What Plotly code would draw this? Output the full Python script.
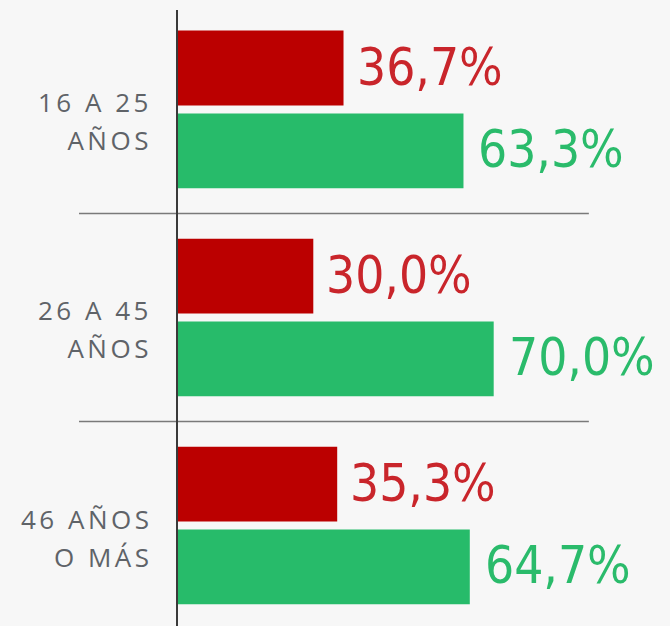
import plotly.graph_objects as go

categories = ["16 A 25<br>AÑOS", "26 A 45<br>AÑOS", "46 AÑOS<br>O MÁS"]
red_values = [36.7, 30.0, 35.3]
green_values = [63.3, 70.0, 64.7]

RED_BAR = "#BB0000"
RED_TXT = "#C9252B"
GREEN_BAR = "#27BB6A"
GREEN_TXT = "#2ABB6B"
GRAY = "#5F6368"
BG = "#F7F7F7"

BAR_W = 0.36
GAP = 0.038

fig = go.Figure()
fig.add_trace(go.Bar(
    y=categories, x=red_values, orientation="h",
    marker=dict(color=RED_BAR, line=dict(width=0)),
    width=BAR_W, offset=-(BAR_W + GAP / 2), hoverinfo="skip", showlegend=False,
))
fig.add_trace(go.Bar(
    y=categories, x=green_values, orientation="h",
    marker=dict(color=GREEN_BAR, line=dict(width=0)),
    width=BAR_W, offset=GAP / 2, hoverinfo="skip", showlegend=False,
))

def fmt(v):
    return f"{v:.1f}".replace(".", ",") + "%"

PCT_FONT = dict(family="Liberation Sans Narrow, DejaVu Sans Condensed, Arial Narrow, sans-serif", size=51)
SHIFT = BAR_W / 2 + GAP / 2
for cat, rv, gv in zip(categories, red_values, green_values):
    fig.add_annotation(x=rv, y=cat, text=fmt(rv), showarrow=False, xanchor="left",
                       yanchor="middle", xshift=11, yshift=SHIFT * 208 + 1,
                       font=dict(color=RED_TXT, **PCT_FONT))
    fig.add_annotation(x=gv, y=cat, text=fmt(gv), showarrow=False, xanchor="left",
                       yanchor="middle", xshift=13, yshift=-SHIFT * 208 + 1,
                       font=dict(color=GREEN_TXT, **PCT_FONT))
    fig.add_annotation(x=0, xref="paper", y=cat, text=
                       "<br>".join(f'<span style="font-size:26px;letter-spacing:3.5px">{part}</span>'
                                   for part in cat.split("<br>")),
                       showarrow=False, xanchor="right", yanchor="middle", align="right",
                       xshift=-24, yshift=-12,
                       font=dict(family="Open Sans, sans-serif", size=29, color=GRAY))

for ysep in [0.5, 1.5]:
    fig.add_shape(type="line", xref="paper", yref="y", x0=-0.2195, x1=0.911,
                  y0=ysep, y1=ysep, line=dict(color="#7A7A7A", width=1.5), layer="below")

fig.update_layout(
    width=670, height=626,
    margin=dict(l=178, r=41, t=10, b=0),
    paper_bgcolor=BG, plot_bgcolor=BG,
    barmode="overlay",
    xaxis=dict(range=[0, 100], showgrid=False, zeroline=False, showticklabels=False,
               showline=False, fixedrange=True),
    yaxis=dict(type="category", categoryorder="array", categoryarray=categories,
               range=[2.483, -0.478], showgrid=False, zeroline=False,
               showticklabels=False, ticks="", showline=True, linecolor="#3A3A3A",
               linewidth=2, fixedrange=True),
)

fig.write_html("out.html", config={"displayModeBar": False})

with open("out.html", encoding="utf-8") as f:
    html = f.read()
html = html.replace("<body>", f'<body style="margin:0;padding:0;background:{BG};overflow:hidden">', 1)
with open("out.html", "w", encoding="utf-8") as f:
    f.write(html)
